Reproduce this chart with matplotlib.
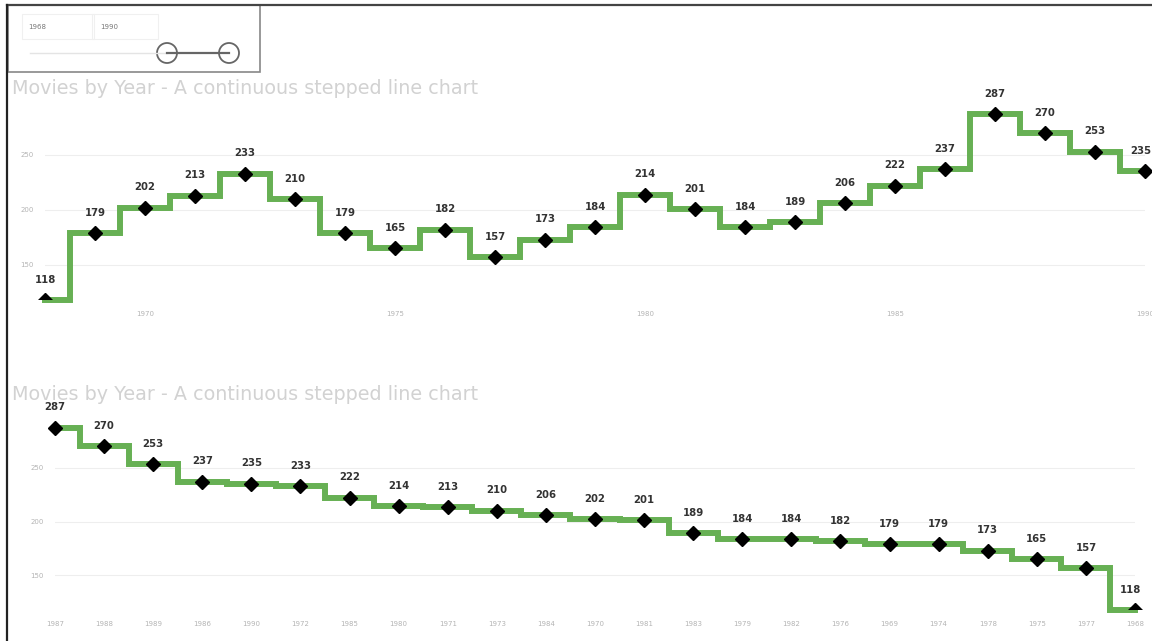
import matplotlib.pyplot as plt
from matplotlib.patches import Rectangle, Circle, Polygon
from matplotlib.lines import Line2D

years = [1968, 1969, 1970, 1971, 1972, 1973, 1974, 1975, 1976, 1977, 1978, 1979,
         1980, 1981, 1982, 1983, 1984, 1985, 1986, 1987, 1988, 1989, 1990]
movies = [118, 179, 202, 213, 233, 210, 179, 165, 182, 157, 173, 184,
          214, 201, 184, 189, 206, 222, 237, 287, 270, 253, 235]

# same data ordered by count, biggest first
order = sorted(range(len(years)), key=lambda i: -movies[i])
sorted_years = [str(years[i]) for i in order]
sorted_movies = [movies[i] for i in order]

title = 'Movies by Year - A continuous stepped line chart'
green = '#67b054'
grey_txt = '#b4b4b4'

W, H = 1152, 641
fig = plt.figure(figsize=(W / 100, H / 100), dpi=100)

def px_axes(left, top, right, bottom):
    return fig.add_axes([left / W, 1 - bottom / H, (right - left) / W, (bottom - top) / H])

def style(ax):
    for s in ax.spines.values():
        s.set_visible(False)
    ax.set_yticks([150, 200, 250])
    ax.grid(axis='y', color='#eeeeee', linewidth=0.8)
    ax.set_axisbelow(True)
    ax.tick_params(length=0, labelsize=5, labelcolor=grey_txt, pad=8)

def draw(ax, x, y):
    # markers are cut at the bottom of the plot area only
    clip = Polygon([(-0.05, 0), (1.05, 0), (1.05, 1.3), (-0.05, 1.3)],
                   closed=True, transform=ax.transAxes, visible=False)
    ax.add_patch(clip)
    ax.plot(x, y, drawstyle='steps-mid', color=green, linewidth=4.3,
            solid_joinstyle='miter', zorder=3, clip_on=False)
    pts, = ax.plot(x, y, 'D', color='black', markersize=7.5, zorder=4)
    pts.set_clip_path(clip)
    pts.set_clip_box(None)
    n = len(x)
    for i, (xi, yi) in enumerate(zip(x, y)):
        dx = -3 if i == n - 1 else 0
        ax.annotate(str(yi), (xi, yi), xytext=(dx, 11), textcoords='offset points',
                    ha='center', va='bottom', fontsize=7.3, fontweight='bold',
                    color='#333333', zorder=2, annotation_clip=False)

# top chart: by year
ax1 = px_axes(45, 100, 1145, 300)
draw(ax1, years, movies)
ax1.set_xlim(years[0], years[-1])
ax1.set_ylim(118, 300)
ax1.set_xticks([1970, 1975, 1980, 1985, 1990])
style(ax1)

# bottom chart: sorted by count
ax2 = px_axes(55, 419, 1135, 610)
idx = list(range(len(sorted_years)))
draw(ax2, idx, sorted_movies)
ax2.set_xlim(0, len(idx) - 1)
ax2.set_ylim(118, 295)
ax2.set_xticks(idx)
ax2.set_xticklabels(sorted_years)
style(ax2)

# page frame, titles and year range slicer
deco = fig.add_axes([0, 0, 1, 1], zorder=-1)
deco.set_xlim(0, W)
deco.set_ylim(H, 0)
deco.axis('off')
deco.add_line(Line2D([7, W], [5, 5], color='#444444', linewidth=1.6))
deco.add_line(Line2D([7, 7], [5, H], color='#222222', linewidth=1.6))
deco.add_patch(Rectangle((8, 5), 252, 67, fill=False, edgecolor='#888888', linewidth=1.2))
deco.add_patch(Rectangle((22, 14), 72, 25, fill=False, edgecolor='#f0f0f0', linewidth=0.8))
deco.add_patch(Rectangle((92, 14), 66, 25, fill=False, edgecolor='#f0f0f0', linewidth=0.8))
deco.text(28, 27, str(years[0]), fontsize=5, color='#777777', va='center')
deco.text(100, 27, str(years[-1]), fontsize=5, color='#777777', va='center')
deco.add_line(Line2D([30, 167], [53, 53], color='#e4e4e4', linewidth=1))
deco.add_line(Line2D([167, 229], [53, 53], color='#666666', linewidth=1.6))
for cx in (167, 229):
    deco.add_patch(Circle((cx, 53), 10, facecolor='white', edgecolor='#666666', linewidth=1.3))
deco.text(12, 88, title, fontsize=13.8, color='#d2d2d2', va='center')
deco.text(12, 395, title, fontsize=13.8, color='#d2d2d2', va='center')

fig.savefig('out.png', dpi=100)
